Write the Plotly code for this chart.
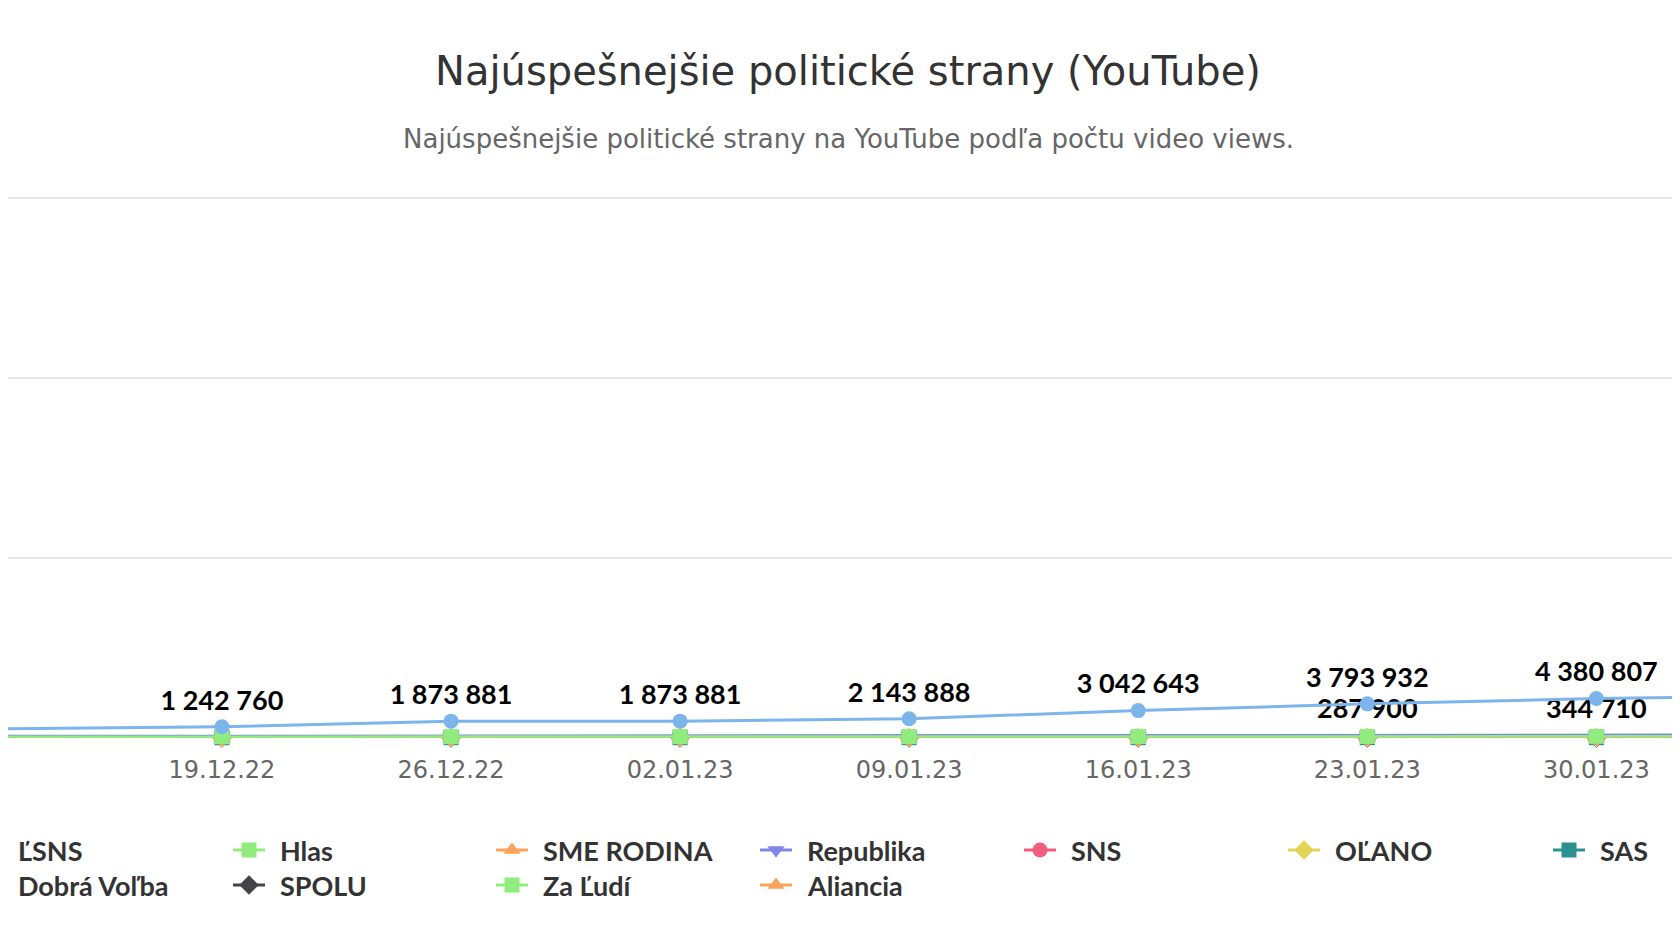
import plotly.graph_objects as go

W, H = 1680, 945

dates = ["12.12.22", "19.12.22", "26.12.22", "02.01.23", "09.01.23",
         "16.01.23", "23.01.23", "30.01.23", "06.02.23"]

lsns = [1012780, 1242760, 1873881, 1873881, 2143888, 3042643, 3793932, 4380807, 4750000]
hlas = [140000, 145000, 150000, 152000, 155000, 160000, 170000, 180000, 190000]
sme_rodina = [50000, 52000, 55000, 56000, 58000, 60000, 62000, 65000, 67000]
republika = [210000, 220000, 230000, 235000, 245000, 260000, 287900, 344710, 360000]
sns = [70000, 72000, 75000, 77000, 80000, 82000, 85000, 88000, 90000]
olano = [40000, 41000, 42000, 43000, 44000, 45000, 46000, 47000, 48000]
sas = [30000, 31000, 32000, 33000, 34000, 35000, 36000, 37000, 38000]
dobra_volba = [20000, 21000, 22000, 23000, 24000, 25000, 26000, 27000, 28000]
spolu = [10000, 10500, 11000, 11500, 12000, 12500, 13000, 13500, 14000]
za_ludi = [100000, 102000, 105000, 107000, 110000, 112000, 115000, 118000, 120000]
aliancia = [20000, 20500, 21000, 21500, 22000, 22500, 23000, 23500, 24000]

series = [
    ("ĽSNS", lsns, "#7cb5ec", "circle"),
    ("Hlas", hlas, "#90ed7d", "square"),
    ("SME RODINA", sme_rodina, "#f7a35c", "triangle-up"),
    ("Republika", republika, "#8085e9", "triangle-down"),
    ("SNS", sns, "#f15c80", "circle"),
    ("OĽANO", olano, "#e4d354", "diamond"),
    ("SAS", sas, "#2b908f", "square"),
    ("Dobrá Voľba", dobra_volba, "#f45b5b", "circle"),
    ("SPOLU", spolu, "#434348", "diamond"),
    ("Za Ľudí", za_ludi, "#90ed7d", "square"),
    ("Aliancia", aliancia, "#f7a35c", "triangle-up"),
]

def fmt(v):
    return f"{v:,}".replace(",", " ")

fig = go.Figure()

# small series first so the blue line sits on top
for name, vals, color, sym in reversed(series):
    text = None
    if name == "ĽSNS":
        text = [fmt(v) for v in vals]
    elif name == "Republika":
        text = ["" if i not in (6, 7) else fmt(v) for i, v in enumerate(vals)]
    fig.add_trace(go.Scatter(
        x=dates, y=vals, name=name, mode="lines+markers+text" if text else "lines+markers",
        line=dict(color=color, width=3 if name == "ĽSNS" else 2.5),
        marker=dict(color=color, symbol=sym, size=15),
        text=text, textposition="top center",
        textfont=dict(family="Lato", size=27, color="#000000", weight="bold"),
        cliponaxis=False, hoverinfo="skip", showlegend=False,
    ))

# legend drawn in pixel space on a separate full-page axis pair
cols = [-21, 241, 504, 768, 1032, 1296, 1561]
rows = [842, 877]
layout_items = [(0, 0), (0, 1), (0, 2), (0, 3), (0, 4), (0, 5), (0, 6),
                (1, 0), (1, 1), (1, 2), (1, 3)]
for (name, vals, color, sym), (r, c) in zip(series, layout_items):
    cx, cy = cols[c], rows[r]
    fig.add_trace(go.Scatter(
        x=[cx - 16, cx + 16], y=[cy, cy], mode="lines", xaxis="x2", yaxis="y2",
        line=dict(color=color, width=3), hoverinfo="skip", showlegend=False, cliponaxis=False))
    fig.add_trace(go.Scatter(
        x=[cx], y=[cy], mode="markers", xaxis="x2", yaxis="y2", cliponaxis=False,
        marker=dict(color=color, symbol=sym, size=15), hoverinfo="skip", showlegend=False))
    fig.add_annotation(x=cx + 29, y=cy, xref="x2", yref="y2", text=name, showarrow=False,
                       xanchor="left", yanchor="middle",
                       font=dict(family="Lato", size=27, color="#333333", weight="bold"))

top_px, base_px = 187, 730
fig.update_layout(
    width=W, height=H, margin=dict(l=0, r=0, t=0, b=0),
    paper_bgcolor="white", plot_bgcolor="rgba(0,0,0,0)",
    xaxis=dict(type="category", range=[0.066, 7.40], showgrid=False, zeroline=False,
               showline=False, ticks="", ticklabelstandoff=15,
               tickfont=dict(family="DejaVu Sans", size=24, color="#666666")),
    yaxis=dict(range=[0, 60300000], domain=[(H - base_px) / H, (H - top_px) / H],
               tickvals=[0, 20000000, 40000000, 60000000], showticklabels=False,
               gridcolor="#e6e6e6", gridwidth=1.5, zeroline=False),
    xaxis2=dict(range=[0, W], domain=[0, 1], visible=False, anchor="y2"),
    yaxis2=dict(range=[H, 0], domain=[0, 1], visible=False, anchor="x2"),
)

fig.add_annotation(x=0.5, y=1 - 63 / H, xref="paper", yref="paper", showarrow=False,
                   xanchor="center", yanchor="middle",
                   text="Najúspešnejšie politické strany (YouTube)",
                   font=dict(family="DejaVu Sans", size=40, color="#333333"))
fig.add_annotation(x=0.5, y=1 - 131 / H, xref="paper", yref="paper", showarrow=False,
                   xanchor="center", yanchor="middle",
                   text="Najúspešnejšie politické strany na YouTube podľa počtu video views.",
                   font=dict(family="DejaVu Sans", size=26, color="#666666"))

fig.write_html("out.html")
